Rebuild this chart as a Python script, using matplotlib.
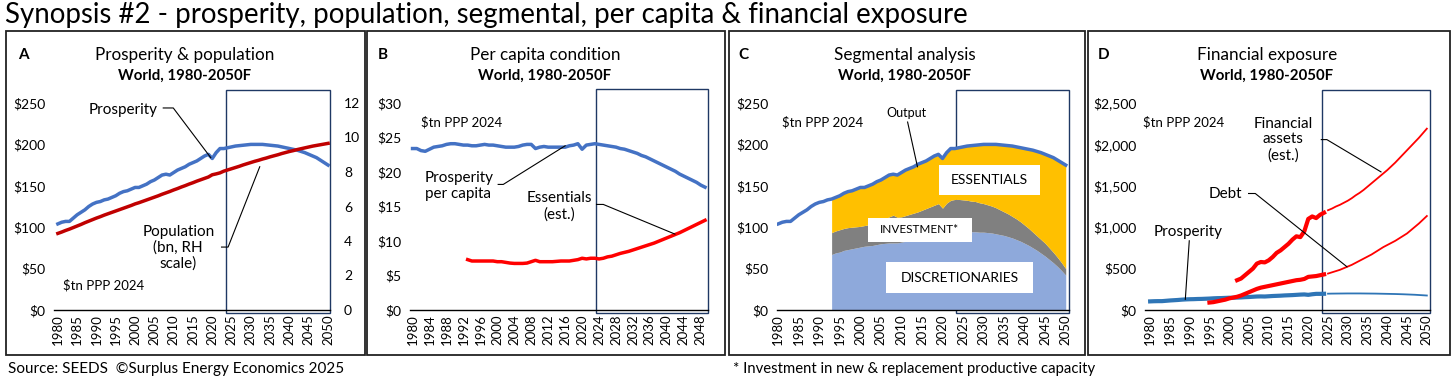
import matplotlib.pyplot as plt
import numpy as np
from matplotlib.patches import Rectangle

plt.rcParams['font.family'] = ['Lato', 'DejaVu Sans']

# ---- data ----
years = np.arange(1980, 2051)
prosperity = [104, 106, 107, 107, 111, 115, 118, 121, 125, 128,
              130, 131, 133, 134, 136, 138, 141, 143, 144, 146,
              148, 148, 150, 152, 155, 157, 160, 163, 164, 163,
              166, 169, 171, 173, 176, 178, 180, 183, 186, 188,
              183, 190, 195, 195, 196, 197, 198, 198.5, 199, 199.5,
              200, 200, 200, 200, 199.5, 199, 198.5, 198, 197, 196,
              195, 194, 193, 191.5, 190, 188, 186, 184, 181, 178, 175]
population = [4.44, 4.52, 4.61, 4.69, 4.78, 4.87, 4.96, 5.06, 5.15, 5.24,
              5.33, 5.41, 5.50, 5.58, 5.66, 5.74, 5.82, 5.90, 5.98, 6.06,
              6.15, 6.22, 6.30, 6.38, 6.46, 6.54, 6.62, 6.71, 6.79, 6.87,
              6.96, 7.04, 7.13, 7.21, 7.30, 7.38, 7.47, 7.55, 7.63, 7.71,
              7.84, 7.89, 7.95, 8.05, 8.12, 8.19, 8.26, 8.33, 8.41, 8.48,
              8.55, 8.62, 8.68, 8.75, 8.81, 8.88, 8.94, 9.00, 9.07, 9.13,
              9.19, 9.24, 9.30, 9.35, 9.40, 9.45, 9.50, 9.54, 9.58, 9.62, 9.66]

years_pc = np.arange(1980, 2050)
per_capita = [23.4, 23.4, 23.1, 23.0, 23.3, 23.6, 23.7, 23.8, 24.0, 24.1,
              24.1, 24.0, 23.9, 23.9, 23.8, 23.8, 23.9, 24.0, 23.9, 23.9,
              23.8, 23.7, 23.6, 23.6, 23.6, 23.7, 23.9, 24.0, 24.0, 23.4,
              23.6, 23.7, 23.6, 23.6, 23.6, 23.6, 23.6, 23.8, 23.9, 24.1,
              23.3, 23.9, 24.0, 24.1, 24.0, 23.9, 23.8, 23.7, 23.6, 23.4,
              23.3, 23.1, 22.9, 22.7, 22.4, 22.2, 21.9, 21.6, 21.3, 21.0,
              20.7, 20.4, 20.1, 19.7, 19.4, 19.1, 18.8, 18.5, 18.1, 17.8]
years_ess_pc = np.arange(1993, 2050)
essentials_pc = [7.3, 7.1, 7.1, 7.1, 7.1, 7.1, 7.1, 7.0, 7.0, 6.9,
                 6.8, 6.75, 6.75, 6.75, 6.8, 7.0, 7.2, 7.0, 7.0, 7.0,
                 7.0, 7.05, 7.1, 7.1, 7.1, 7.2, 7.3, 7.5, 7.4, 7.5,
                 7.5, 7.4, 7.5, 7.7, 7.8, 8.0, 8.2, 8.35, 8.5, 8.7,
                 8.9, 9.1, 9.3, 9.5, 9.7, 9.95, 10.2, 10.45, 10.7, 10.95,
                 11.2, 11.5, 11.8, 12.1, 12.4, 12.7, 13.0]

years_seg = np.arange(1993, 2051)
discretionaries = [67, 69, 70, 72, 73, 74, 75, 76, 77, 77.5,
                   78, 79, 80, 80.5, 81, 81, 81, 82, 83, 84,
                   85, 86, 87, 88, 89, 90, 91, 87, 92, 94,
                   94.5, 94.5, 94.5, 94.5, 94.5, 94.5, 94, 94, 93.5, 93,
                   92, 91, 90, 88.5, 87, 85, 83, 80.5, 78, 75,
                   72, 68.5, 65, 61, 57, 52.5, 47.5, 42]
investment = [26.5, 26.5, 27, 26.5, 26.5, 26, 25.5, 25, 25, 25.5,
              26, 27, 28, 29.5, 31.5, 33.5, 31, 30.5, 31, 31.5,
              32, 32.5, 33.5, 34.5, 35.5, 36.5, 37.5, 36, 37, 38.5,
              39, 39, 38.5, 38, 37, 36.5, 35.5, 34.5, 33.5, 32.5,
              31.5, 30, 28.5, 27.5, 26, 25, 23.5, 22, 20.5, 19,
              17.5, 16.5, 15.5, 14, 12.5, 11, 9.5, 8]

years_debt = np.arange(1995, 2051)
debt = [90, 95, 105, 115, 125, 140, 150, 160, 175, 195,
        215, 235, 255, 270, 280, 290, 300, 310, 320, 330,
        340, 350, 360, 365, 375, 400, 405, 410, 420, 430,
        440, 455, 470, 485, 505, 525, 545, 570, 595, 620,
        645, 670, 700, 730, 760, 785, 810, 835, 865, 895,
        925, 965, 1005, 1045, 1090, 1135]
years_fa = np.arange(2002, 2051)
fin_assets = [360, 380, 420, 460, 500, 560, 580, 575, 600, 640,
              690, 720, 760, 800, 850, 890, 880, 950, 1100, 1130,
              1110, 1150, 1175, 1205, 1225, 1250, 1270, 1295, 1320, 1350,
              1385, 1415, 1450, 1490, 1530, 1570, 1610, 1650, 1690, 1735,
              1780, 1830, 1880, 1930, 1980, 2030, 2080, 2135, 2190]

BLUE = '#4472C4'
DBLUE = '#2E75B6'
DRED = '#C00000'
RED = '#FF0000'
BOXC = '#1F3864'

W, H = 1456, 383
fig = plt.figure(figsize=(W / 100, H / 100), dpi=100)


def px_axes(left, right, top, bottom):
    return fig.add_axes([left / W, 1 - bottom / H, (right - left) / W, (bottom - top) / H])


def frame(left, right, top, bottom):
    fig.patches.append(Rectangle((left / W, 1 - bottom / H), (right - left) / W, (bottom - top) / H,
                                 transform=fig.transFigure, fill=False, ec='#222222', lw=1.3))


def style(ax, xlim, ylim, xticks, yfmt):
    ax.set_xlim(*xlim)
    ax.set_ylim(*ylim)
    for s in ['top', 'right', 'left']:
        ax.spines[s].set_visible(False)
    ax.spines['bottom'].set_linewidth(1.0)
    ax.set_xticks(xticks)
    ax.set_xticklabels([str(t) for t in xticks], rotation=90, fontsize=9.5)
    ax.tick_params(axis='both', length=0, pad=3)
    ax.tick_params(axis='y', labelsize=10, pad=6)
    ax.yaxis.set_major_formatter(plt.FuncFormatter(yfmt))


def proj_box(ax, x0, x1, y0, y1):
    ax.add_patch(Rectangle((x0, y0), x1 - x0, y1 - y0, fill=False, ec=BOXC, lw=1.0,
                           clip_on=False, zorder=1))


def leader(ax, pts):
    xs, ys = zip(*pts)
    ax.plot(xs, ys, color='black', lw=0.8, clip_on=False, zorder=5)


def label_box(ax, x0, x1, y0, y1, text, size):
    ax.add_patch(Rectangle((x0, y0), x1 - x0, y1 - y0, fc='white', ec='none', zorder=4))
    ax.text((x0 + x1) / 2, (y0 + y1) / 2, text, fontsize=size, ha='center', va='center', zorder=5)


dollars = lambda v, p: '${:,.0f}'.format(v)

# frames
frame(6, 365, 31, 355)
frame(367, 725, 31, 355)
frame(729, 1085, 31, 355)
frame(1088, 1450, 31, 355)

# headings
for x0, cx, letter, title in [(18, 185, 'A', 'Prosperity & population'),
                              (378, 545, 'B', 'Per capita condition'),
                              (738, 905, 'C', 'Segmental analysis'),
                              (1098, 1267, 'D', 'Financial exposure')]:
    fig.text(x0 / W, 1 - 55 / H, letter, fontsize=11, fontweight='bold', va='center')
    fig.text(cx / W, 1 - 55 / H, title, fontsize=12.3, ha='center', va='center')
    fig.text(cx / W, 1 - 76 / H, 'World, 1980-2050F', fontsize=10.8, fontweight='bold',
             ha='center', va='center')

# ---- A ----
ax = px_axes(54, 330, 103, 310)
style(ax, (1979, 2050.5), (0, 250), list(range(1980, 2051, 5)), dollars)
ax.set_yticks(range(0, 251, 50))
ax.plot(years, prosperity, color=BLUE, lw=2.5, zorder=3)
ax2 = ax.twinx()
ax2.set_ylim(0, 12)
ax2.set_yticks(range(0, 13, 2))
for s in ax2.spines.values():
    s.set_visible(False)
ax2.tick_params(axis='y', length=0, labelsize=10, pad=10)
ax2.plot(years, population, color=DRED, lw=2.5, zorder=3)
proj_box(ax, 2023.5, 2050.5, -4, 266)
ax.text(1997, 242, 'Prosperity', fontsize=11, ha='center', va='center')
leader(ax, [(2007.3, 244), (2009.9, 244), (2019.6, 184)])
ax.text(2011.2, 75, 'Population\n(bn, RH\nscale)', fontsize=11, ha='center', va='center',
        linespacing=1.15)
leader(ax, [(2022.4, 76), (2024.1, 76), (2032.3, 173)])
ax.text(1981.4, 30, '$tn PPP 2024', fontsize=9.5, va='center')

# ---- B ----
ax = px_axes(410, 708, 103, 310)
style(ax, (1979.4, 2049.7), (0, 30), list(range(1980, 2049, 4)), dollars)
ax.set_yticks(range(0, 31, 5))
ax.plot(years_pc, per_capita, color=BLUE, lw=2.5, zorder=3)
ax.plot(years_ess_pc, essentials_pc, color=RED, lw=2.5, zorder=3)
proj_box(ax, 2023.3, 2049.7, -0.5, 32.1)
ax.text(1982.1, 27.2, '$tn PPP 2024', fontsize=9.5, va='center')
ax.text(1982.9, 18, 'Prosperity\nper capita', fontsize=11, va='center', linespacing=1.15)
leader(ax, [(2000.2, 18.2), (2001.4, 18.2), (2016.0, 23.8)])
ax.text(2014.7, 15, 'Essentials\n(est.)', fontsize=11, ha='center', va='center',
        linespacing=1.15)
leader(ax, [(2023.4, 15.3), (2025, 15.3), (2041.9, 11.0)])

# ---- C ----
ax = px_axes(777, 1068.6, 103, 310)
style(ax, (1979.7, 2050.7), (0, 250), list(range(1980, 2051, 5)), dollars)
ax.set_yticks(range(0, 251, 50))
disc = np.array(discretionaries)
inv_top = disc + np.array(investment)
out_seg = np.array(prosperity)[years >= 1993]
ax.fill_between(years_seg, 0, disc, color='#8EA9DB', lw=0, zorder=2)
ax.fill_between(years_seg, disc, inv_top, color='#808080', lw=0, zorder=2)
ax.fill_between(years_seg, inv_top, out_seg, color='#FFC000', lw=0, zorder=2)
ax.plot(years, prosperity, color=BLUE, lw=2.5, zorder=3)
proj_box(ax, 2023.4, 2050.7, -4, 266)
label_box(ax, 2019.1, 2043.7, 138.7, 174.8, 'ESSENTIALS', 10)
label_box(ax, 2001.8, 2027.1, 81.6, 111.7, 'INVESTMENT*', 8.5)
label_box(ax, 2006.2, 2042.1, 20.1, 58.3, 'DISCRETIONARIES', 10)
ax.text(2011.3, 238, 'Output', fontsize=9, ha='center', va='center')
leader(ax, [(2011.5, 227), (2013.9, 173)])
ax.text(1980.8, 227, '$tn PPP 2024', fontsize=9.5, va='center')

# ---- D ----
ax = px_axes(1145, 1430, 103, 310)
style(ax, (1978.7, 2050.8), (0, 2500), list(range(1980, 2051, 5)), dollars)
ax.set_yticks(range(0, 2501, 500))
yrs = years
pro = np.array(prosperity)
ax.plot(yrs[yrs <= 2024], pro[yrs <= 2024], color=DBLUE, lw=3, zorder=3)
ax.plot(yrs[yrs >= 2025], pro[yrs >= 2025], color=DBLUE, lw=1.3, zorder=3)
d = np.array(debt)
ax.plot(years_debt[years_debt <= 2024], d[years_debt <= 2024], color=RED, lw=3, zorder=3)
ax.plot(years_debt[years_debt >= 2025], d[years_debt >= 2025], color=RED, lw=1.3, zorder=3)
fa = np.array(fin_assets)
ax.plot(years_fa[years_fa <= 2024], fa[years_fa <= 2024], color=RED, lw=3, zorder=3)
ax.plot(years_fa[years_fa >= 2025], fa[years_fa >= 2025], color=RED, lw=1.3, zorder=3)
proj_box(ax, 2023.6, 2050.8, -40, 2660)
ax.text(1978.3, 2271, '$tn PPP 2024', fontsize=9.5, va='center')
ax.text(2013.7, 2058, 'Financial\nassets\n(est.)', fontsize=11, ha='center', va='center',
        linespacing=1.15)
leader(ax, [(2023.3, 2058), (2024.7, 2058), (2038.4, 1668)])
ax.text(1999.1, 1407, 'Debt', fontsize=11, ha='center', va='center')
leader(ax, [(2004.9, 1407), (2006.6, 1407), (2029.8, 522)])
ax.text(1989.7, 945, 'Prosperity', fontsize=11, ha='center', va='center')
leader(ax, [(1989.9, 836), (1988.9, 129)])

# titles / footers
fig.text(5 / W, 1 - 15 / H, 'Synopsis #2 - prosperity, population, segmental, per capita & financial exposure',
         fontsize=19.9, va='center')
fig.text(8 / W, 1 - 369 / H, 'Source: SEEDS  \u00a9Surplus Energy Economics 2025', fontsize=11, va='center')
fig.text(733 / W, 1 - 369 / H, '* Investment in new & replacement productive capacity', fontsize=10.7, va='center')

fig.savefig('out.png', dpi=100)
